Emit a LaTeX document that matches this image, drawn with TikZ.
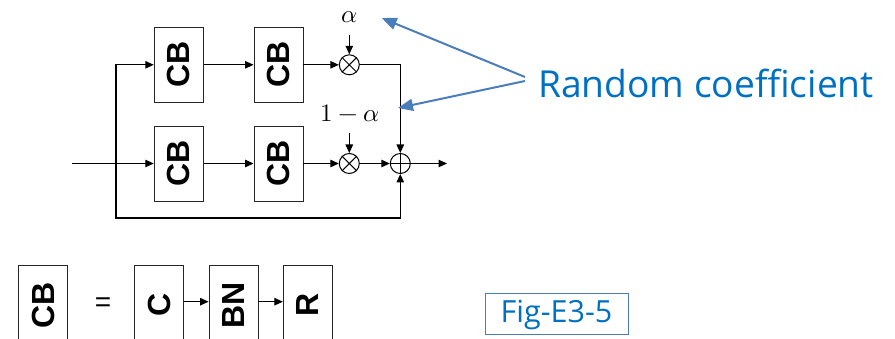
\documentclass[tikz,border=0pt]{standalone}
\usepackage{fontspec}
\usepackage{unicode-math}
\setmathfont{Latin Modern Math}
\newfontfamily\arialb{Liberation Sans}
\newfontfamily\uifont{Open Sans}
\usetikzlibrary{arrows.meta,calc}
\definecolor{rcblue}{RGB}{0,112,192}
\definecolor{arblue}{RGB}{74,126,187}
\begin{document}
\begin{tikzpicture}[x=1pt,y=-1pt,
  blk/.style={draw=black!85, line width=0.9pt, minimum width=49pt, minimum height=75pt, inner sep=0pt, font=\arialb\bfseries\fontsize{32}{32}\selectfont},
  sumnode/.style={draw, circle, minimum size=20pt, inner sep=0pt, line width=1pt},
  arr/.style={line width=1.1pt, -{Triangle[length=8.5pt,width=7.5pt]}},
  ln/.style={line width=1.1pt},
  barr/.style={arblue, line width=2pt, -{Triangle[length=15pt,width=12pt]}},
  mlab/.style={font=\fontsize{25}{25}\selectfont, inner sep=0pt},
]
\useasboundingbox (0,0) rectangle (895,339);
\clip (0,0) rectangle (895,339);

% upper diagram
\node[blk] (T1) at (178.7,64.8) {\rotatebox{90}{CB}};
\node[blk] (T2) at (278.5,64.8) {\rotatebox{90}{CB}};
\node[blk] (B1) at (178.7,163.5) {\rotatebox{90}{CB}};
\node[blk] (B2) at (278.5,163.5) {\rotatebox{90}{CB}};

\node[sumnode] (mT) at (349.3,64.8) {};
\draw[line width=1pt] (mT.north west) -- (mT.south east) (mT.north east) -- (mT.south west);
\node[sumnode] (mB) at (349.3,163.5) {};
\draw[line width=1pt] (mB.north west) -- (mB.south east) (mB.north east) -- (mB.south west);
\node[sumnode] (add) at (400.3,163.5) {};
\draw[line width=1pt] (add.north) -- (add.south) (add.west) -- (add.east);

\node[mlab] (la) at (349,17) {$\alpha$};
\node[mlab] (lb) at (350,113) {$1-\alpha$};
\coordinate (aT) at (349.3,35);
\coordinate (aB) at (349.3,133);
\draw[arr] (aT) -- (mT);
\draw[arr] (aB) -- (mB);

\coordinate (in) at (72,163.5);
\coordinate (j) at (116,163.5);
\coordinate (fb) at (116,218);
\coordinate (out) at (447,163.5);
\draw[ln] (in) -- (j);
\draw[arr] (j) -- (B1);
\draw[arr] (j) |- (T1);
\draw[arr] (T1) -- (T2);
\draw[arr] (T2) -- (mT);
\draw[arr] (B1) -- (B2);
\draw[arr] (B2) -- (mB);
\draw[arr] (mB) -- (add);
\draw[arr] (mT) -| (add);
\draw[arr] (j) -- (fb) -| (add);
\draw[arr] (add) -- (out);

% annotation
\node[text=rcblue, font=\uifont\fontsize{37.2}{37.2}\selectfont, anchor=west, inner sep=0pt] (rc) at (538,83) {Random coefficient};
\coordinate (p1) at (381.7,18);
\coordinate (p2) at (398,108);
\draw[barr] ($(rc.west)+(-13,-6)$) -- (p1);
\draw[barr] ($(rc.west)+(-13,-2)$) -- (p2);

% legend
\node[blk, minimum height=80pt] (CB2) at (43.3,305) {\rotatebox{90}{CB}};
\node[font=\arialb\fontsize{28}{28}\selectfont, inner sep=0pt] (eq) at (103,305) {=};
\node[blk, minimum height=80pt] (C) at (159.2,305) {\rotatebox{90}{C}};
\node[blk, minimum height=80pt] (BN) at (233.5,305) {\rotatebox{90}{BN}};
\node[blk, minimum height=80pt] (R) at (307.8,305) {\rotatebox{90}{R}};
\draw[arr] ([yshift=3.3pt]C.east) -- ([yshift=3.3pt]BN.west);
\draw[arr] ([yshift=3.3pt]BN.east) -- ([yshift=3.3pt]R.west);

\node[draw=arblue, line width=1pt, text=rcblue, font=\uifont\fontsize{30.5}{30.5}\selectfont, minimum width=143pt, minimum height=41pt, inner sep=0pt] (fig) at (556.5,314.5) {Fig-E3-5};
\end{tikzpicture}
\end{document}
